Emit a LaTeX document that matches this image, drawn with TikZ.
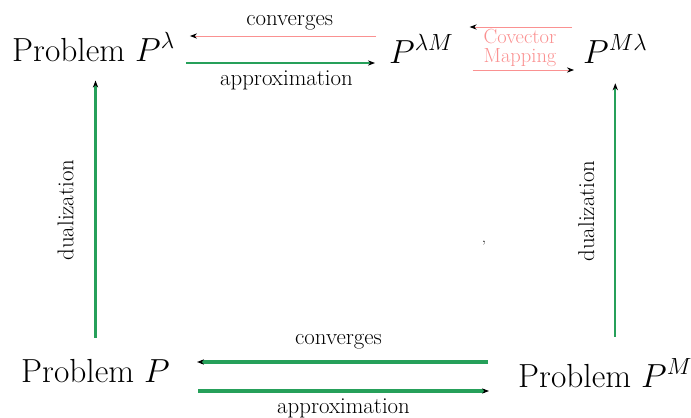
\RequirePackage{fix-cm}
\documentclass[tikz,border=0pt]{standalone}
\usepackage{xcolor}
\usetikzlibrary{arrows.meta, positioning}

\definecolor{dualgreen}{RGB}{38,160,90}
\definecolor{covpink}{RGB}{250,145,145}

\begin{document}
\begin{tikzpicture}[
  x=0.03cm, y=-0.03cm,
  prob/.style = {inner sep=0pt, anchor=base west,
                 font=\fontsize{28.5}{34}\selectfont},
  lbl/.style  = {inner sep=0pt, font=\fontsize{19.5}{14}\selectfont},
  garr/.style = {-{Stealth[black, length=6pt, width=4.5pt]},
                 draw=dualgreen, line width=2.4pt},
  parr/.style = {-{Stealth[black, length=6pt, width=4.5pt]},
                 draw=covpink, line width=0.8pt}
]
\useasboundingbox (0,0) rectangle (691,418);

% ===================== PROBLEMS =====================
\node[prob] (plam) at (12,61)  {Problem $P^{\lambda}$};
\node[prob] (plm)  at (389,63) {$P^{\lambda M}$};
\node[prob] (pml)  at (583,63) {$P^{M\lambda}$};
\node[prob] (pp)   at (21,382) {Problem $P$};
\node[prob] (ppm)  at (518,387) {Problem $P^{M}$};

% ===================== TOP ROW =====================
\draw[parr] ([shift={(-13,-27)}]plm.base west)
  -- node[lbl, midway, above=0.15cm, xshift=0.2cm] (convtop) {converges}
  ([shift={(15,-25)}]plam.base east);
\draw[garr, line width=2.2pt] ([shift={(11,2)}]plam.base east)
  -- node[lbl, midway, below=0.18cm, xshift=0.18cm] (apptop) {approximation}
  ([shift={(-14,0)}]plm.base west);

% covector mapping
\draw[parr] ([shift={(-11,-36)}]pml.base west) -- ([shift={(16,-36)}]plm.base east);
\draw[parr] ([shift={(19,7)}]plm.base east) -- ([shift={(-9,7)}]pml.base west);
\node[lbl, font=\fontsize{17.5}{16}\selectfont, text=covpink, align=center]
  (cov) at (520,48) {Covector\\Mapping};

% ===================== BOTTOM ROW =====================
\draw[garr, line width=2.6pt] ([shift={(-30,-25)}]ppm.base west)
  -- node[lbl, midway, above=0.33cm, xshift=-0.12cm] (convbot) {converges}
  ([shift={(27,-20)}]pp.base east);
\draw[garr, line width=2.6pt] ([shift={(28,9)}]pp.base east)
  -- node[lbl, midway, below=0.2cm] (appbot) {approximation}
  ([shift={(-29,4)}]ppm.base west);

% ===================== DUALIZATION =====================
\draw[garr, line width=1.8pt, shorten <=0.63cm, shorten >=0.57cm]
  (pp.north) -- node[lbl, midway, sloped, above=0.63cm] (dualL) {dualization}
  (pp.north |- plam.south);
\draw[garr, line width=1.8pt, shorten <=0.66cm, shorten >=0.6cm]
  (ppm.north -| pml.south) -- node[lbl, midway, sloped, above=0.6cm] (dualR) {dualization}
  (pml.south);

\node[inner sep=0pt, font=\fontsize{12}{12}\selectfont] (comma) at (484,243) {,};

\end{tikzpicture}
\end{document}
